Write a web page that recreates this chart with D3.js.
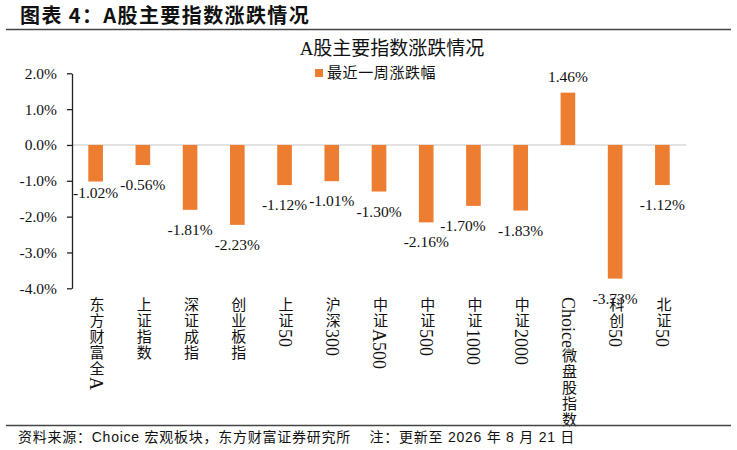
<!DOCTYPE html>
<html>
<head>
<meta charset="utf-8">
<script src="https://cdn.jsdelivr.net/npm/d3@7"></script>
<style>
  body { margin: 0; background: #fff; }
  svg { display: block; }
</style>
</head>
<body>
<svg></svg>
<script>
const svgWidth = 737
const svgHeight = 450

// data
const categories = ["东方财富全A", "上证指数", "深证成指", "创业板指", "上证50", "沪深300", "中证A500",
    "中证500", "中证1000", "中证2000", "Choice微盘股指数", "科创50", "北证50"]
const weeklyChange = [-1.02, -0.56, -1.81, -2.23, -1.12, -1.01, -1.30, -2.16, -1.70, -1.83, 1.46, -3.73, -1.12]
const yTicks = [2, 1, 0, -1, -2, -3, -4]
const seriesName = "最近一周涨跌幅"
const figureTitle = "图表 4：A股主要指数涨跌情况"
const chartTitle = "A股主要指数涨跌情况"
const footnote = "资料来源：Choice 宏观板块，东方财富证券研究所    注：更新至 2026 年 8 月 21 日"

const plot = { left: 72, right: 686, top: 73.3, bottom: 288.3 }
const barColor = "#ED7D31"
const serif = "'Liberation Serif', 'Times New Roman', 'Noto Sans CJK SC', serif"

// Excel moved a couple of labels to dodge neighbours
const labelNudge = { "东方财富全A": { dx: 0, dy: -9 }, "中证1000": { dx: -10.5, dy: 0 } }

const svg = d3.select("svg")
    .attr("width", svgWidth)
    .attr("height", svgHeight)

// header
svg.append("text")
    .text(figureTitle)
    .attr("x", 20)
    .attr("y", 23)
    .attr("font-family", "'Noto Sans CJK SC', 'Liberation Sans', sans-serif")
    .attr("font-weight", 700)
    .attr("font-size", 20)
    .attr("letter-spacing", 1.4)
    .attr("fill", "#111")

svg.append("line")
    .attr("x1", 6).attr("x2", 731)
    .attr("y1", 29.5).attr("y2", 29.5)
    .attr("stroke", "#444")
    .attr("stroke-width", 1.5)

svg.append("text")
    .text(chartTitle)
    .attr("x", (plot.left + plot.right) / 2 + 13)
    .attr("y", 55)
    .attr("text-anchor", "middle")
    .attr("font-family", serif)
    .attr("font-size", 19)
    .attr("fill", "#111")

// legend
const legend = svg.append("g").attr("transform", "translate(315,73)")
legend.append("rect")
    .attr("x", 0).attr("y", -4)
    .attr("width", 8).attr("height", 8)
    .attr("fill", barColor)
legend.append("text")
    .text(seriesName)
    .attr("x", 12)
    .attr("y", 5)
    .attr("font-family", serif)
    .attr("font-size", 15)
    .attr("letter-spacing", 0.6)
    .attr("fill", "#111")

const xScale = d3.scaleBand()
    .domain(categories)
    .range([plot.left, plot.right])
    .paddingInner(0.69)
    .paddingOuter(0.345)

const yScale = d3.scaleLinear()
    .domain([-4, 2])
    .range([plot.bottom, plot.top])

// zero line
svg.append("line")
    .attr("x1", plot.left).attr("x2", plot.right)
    .attr("y1", yScale(0)).attr("y2", yScale(0))
    .attr("stroke", "#D9D9D9")
    .attr("stroke-width", 1.5)

// bars
svg.selectAll(".bar")
    .data(weeklyChange)
    .join("rect")
    .attr("class", "bar")
    .attr("x", (d, i) => xScale(categories[i]))
    .attr("y", d => yScale(Math.max(0, d)))
    .attr("width", xScale.bandwidth())
    .attr("height", d => Math.abs(yScale(d) - yScale(0)))
    .attr("fill", barColor)

// y axis
const yAxis = svg.append("g")
    .attr("transform", `translate(${plot.left},0)`)
    .call(d3.axisLeft(yScale)
        .tickValues(yTicks)
        .tickFormat(d => d.toFixed(1) + "%")
        .tickSize(5)
        .tickSizeOuter(0)
        .tickPadding(10))
yAxis.select(".domain").attr("stroke", "#222").attr("stroke-width", 1.3)
yAxis.selectAll(".tick line").attr("stroke", "#222").attr("stroke-width", 1.3)
yAxis.selectAll(".tick text")
    .attr("font-family", serif)
    .attr("font-size", 15.5)
    .attr("fill", "#111")

// data labels
svg.selectAll(".value-label")
    .data(weeklyChange)
    .join("text")
    .attr("class", "value-label")
    .text(d => d.toFixed(2) + "%")
    .attr("x", (d, i) => xScale(categories[i]) + xScale.bandwidth() / 2 + (labelNudge[categories[i]] || { dx: 0 }).dx)
    .attr("y", (d, i) => yScale(d) + (d < 0 ? 25 : -11) + (labelNudge[categories[i]] || { dy: 0 }).dy)
    .attr("text-anchor", "middle")
    .attr("font-family", serif)
    .attr("font-size", 15.5)
    .attr("fill", "#111")

// category labels, stacked vertically like Excel (latin runs are set larger)
const catLabels = svg.selectAll(".cat-label")
    .data(categories)
    .join("text")
    .attr("class", "cat-label")
    .attr("x", d => xScale(d) + xScale.bandwidth() / 2)
    .attr("y", 297)
    .style("writing-mode", "vertical-rl")
    .style("text-orientation", "mixed")
    .attr("font-family", serif)
    .attr("fill", "#111")

catLabels.selectAll("tspan")
    .data(d => d.match(/[A-Za-z0-9]+|[^A-Za-z0-9]+/g))
    .join("tspan")
    .text(s => s)
    .attr("font-size", s => /[A-Za-z0-9]/.test(s) ? 18 : 15)
    .attr("letter-spacing", s => /[A-Za-z0-9]/.test(s) ? 0 : 1)

// footer
svg.append("line")
    .attr("x1", 6).attr("x2", 731)
    .attr("y1", 425.5).attr("y2", 425.5)
    .attr("stroke", "#444")
    .attr("stroke-width", 1.5)

svg.append("text")
    .text(footnote)
    .attr("x", 18)
    .attr("y", 442)
    .style("white-space", "pre")
    .attr("font-family", "'Liberation Sans', Arial, 'Noto Sans CJK SC', sans-serif")
    .attr("font-size", 14)
    .attr("letter-spacing", 0.75)
    .attr("fill", "#111")
</script>
</body>
</html>
